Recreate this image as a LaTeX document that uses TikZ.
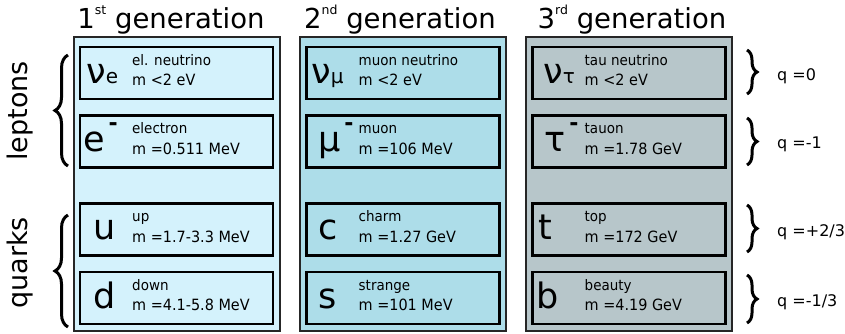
\documentclass[tikz,border=0pt]{standalone}
\usepackage{fontspec}
\setmainfont{DejaVu Sans}
\newfontfamily\condfont{DejaVu Sans}[FakeStretch=0.93]
\usetikzlibrary{decorations.pathreplacing,calc}
\definecolor{genA}{RGB}{212,242,252}
\definecolor{genB}{RGB}{173,221,233}
\definecolor{genC}{RGB}{183,198,202}
\newcommand\supminus{\kern4pt\raisebox{21pt}{\fontsize{22}{22}\selectfont\bfseries -}}
\newcommand\smallsub[1]{{\fontsize{20}{20}\selectfont #1}}
\newcommand\ordsup[1]{\raisebox{0.5em}{\fontsize{12.5}{12.5}\selectfont #1}}
% #1 name, #2 cx, #3 cy, #4 symbol x, #5 symbol, #6 label, #7 mass, #8 fill
\newcommand\particlebox[8]{%
  \node[pbox, fill=#8] (#1) at (#2,#3) {};
  \node[sym] (#1s) at (#4,#3+10) {#5};
  \node[pname] (#1n) at (#2-44.5,#3-8) {#6};
  \node[pmass] (#1m) at (#2-44.5,#3+12.5) {#7};
}
\tikzset{
  colbox/.style={draw=black!85, line width=2pt, minimum width=206pt, minimum height=294pt, inner sep=0pt},
  pbox/.style={draw=black, line width=2.2pt, minimum width=193pt, minimum height=52pt, inner sep=0pt},
  sym/.style={inner sep=0pt, font=\fontsize{35}{35}\selectfont, anchor=base west},
  pname/.style={inner sep=0pt, font=\condfont\fontsize{14.5}{14.5}\selectfont, anchor=base west},
  pmass/.style={inner sep=0pt, font=\condfont\fontsize{15.5}{15.5}\selectfont, anchor=base west},
  gentitle/.style={inner sep=0pt, font=\fontsize{27.5}{27.5}\selectfont, anchor=base},
  grouplabel/.style={inner sep=0pt, font=\fontsize{27}{27}\selectfont, rotate=90},
  bracel/.style={decorate, decoration={brace, amplitude=13pt}, line width=3pt},
  bracer/.style={decorate, decoration={brace, amplitude=10pt}, line width=3pt},
  qlabel/.style={inner sep=0pt, font=\fontsize{16}{16}\selectfont, anchor=base west},
}
\begin{document}
\begin{tikzpicture}[x=1pt,y=-1pt]
\useasboundingbox[fill=white] (0,0) rectangle (845,333);
% generation columns
\node[colbox, fill=genA] (g1) at (176.5,184) {};
\node[colbox, fill=genB] (g2) at (402.5,184) {};
\node[colbox, fill=genC] (g3) at (629,184) {};
% titles
\node[gentitle] (t1) at (171,28) {1\ordsup{st} generation};
\node[gentitle] (t2) at (400,28) {2\ordsup{nd} generation};
\node[gentitle] (t3) at (632,28) {3\ordsup{rd} generation};
% generation 1
\particlebox{ne}{176.5}{73}{86}{ν\smallsub{e}}{el. neutrino}{m <2 eV}{genA}
\particlebox{el}{176.5}{141.5}{83}{e\supminus}{electron}{m =0.511 MeV}{genA}
\particlebox{up}{176.5}{229.5}{93}{u}{up}{m =1.7-3.3 MeV}{genA}
\particlebox{dn}{176.5}{298}{93}{d}{down}{m =4.1-5.8 MeV}{genA}
% generation 2
\particlebox{nm}{403}{73}{311}{ν\smallsub{μ}}{muon neutrino}{m <2 eV}{genB}
\particlebox{mu}{403}{141.5}{318}{μ\supminus}{muon}{m =106 MeV}{genB}
\particlebox{ch}{403}{229.5}{318}{c}{charm}{m =1.27 GeV}{genB}
\particlebox{st}{403}{298}{318}{s}{strange}{m =101 MeV}{genB}
% generation 3
\particlebox{nt}{629}{73}{543}{ν\smallsub{τ}}{tau neutrino}{m <2 eV}{genC}
\particlebox{ta}{629}{141.5}{544}{τ\supminus}{tauon}{m =1.78 GeV}{genC}
\particlebox{tp}{629}{229.5}{538}{t}{top}{m =172 GeV}{genC}
\particlebox{bt}{629}{298}{536}{b}{beauty}{m =4.19 GeV}{genC}
% left group labels and braces
\node[grouplabel] (lep) at (20,111) {leptons};
\node[grouplabel] (qrk) at (20,263) {quarks};
\coordinate (lepB) at (68,166);
\coordinate (lepT) at (68,55);
\coordinate (qrkB) at (68,327);
\coordinate (qrkT) at (68,215);
\draw[bracel] (lepB) -- (lepT);
\draw[bracel] (qrkB) -- (qrkT);
% right charge braces
\coordinate (q1a) at (747,50);  \coordinate (q1b) at (747,94);
\coordinate (q2a) at (747,118); \coordinate (q2b) at (747,165);
\coordinate (q3a) at (747,205); \coordinate (q3b) at (747,252);
\coordinate (q4a) at (747,275); \coordinate (q4b) at (747,323);
\draw[bracer] (q1a) -- (q1b);
\draw[bracer] (q2a) -- (q2b);
\draw[bracer] (q3a) -- (q3b);
\draw[bracer] (q4a) -- (q4b);
\node[qlabel] (c1) at (777,80) {q =0};
\node[qlabel] (c2) at (777,148) {q =-1};
\node[qlabel] (c3) at (777,236) {q =+2/3};
\node[qlabel] (c4) at (777,306) {q =-1/3};
\end{tikzpicture}
\end{document}
